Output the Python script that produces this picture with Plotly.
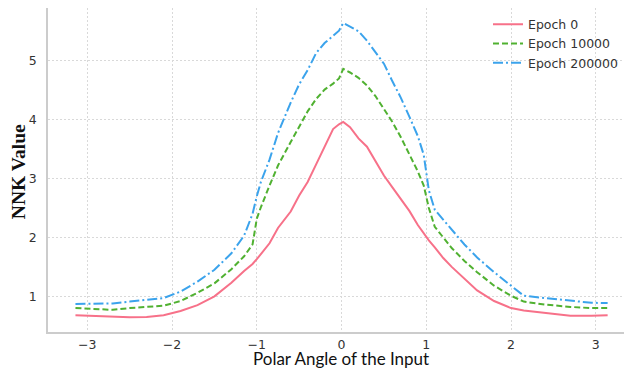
import plotly.graph_objects as go

# ---- data ----
angle = [-3.14, -2.9, -2.7, -2.5, -2.3, -2.1, -1.9, -1.7, -1.5, -1.3, -1.15, -1.05,
         -1.0, -0.95, -0.85, -0.75, -0.6, -0.5, -0.4, -0.3, -0.2, -0.1, -0.03, 0.02,
         0.1, 0.2, 0.3, 0.4, 0.5, 0.6, 0.7, 0.8, 0.9, 0.97, 1.03, 1.1, 1.2, 1.3,
         1.45, 1.6, 1.8, 2.0, 2.15, 2.4, 2.7, 2.95, 3.14]

epoch_0 = [0.68, 0.67, 0.66, 0.645, 0.65, 0.68, 0.75, 0.85, 1.0, 1.23, 1.43, 1.55,
           1.63, 1.72, 1.90, 2.16, 2.44, 2.71, 2.94, 3.24, 3.55, 3.84, 3.92, 3.96,
           3.87, 3.68, 3.54, 3.30, 3.05, 2.85, 2.65, 2.45, 2.21, 2.06, 1.95, 1.83, 1.65, 1.50,
           1.30, 1.10, 0.92, 0.80, 0.76, 0.72, 0.67, 0.67, 0.68]

epoch_10000 = [0.80, 0.79, 0.77, 0.80, 0.82, 0.84, 0.92, 1.06, 1.22, 1.46, 1.68, 1.88,
               2.32, 2.52, 2.88, 3.22, 3.62, 3.88, 4.14, 4.35, 4.51, 4.61, 4.70, 4.86,
               4.80, 4.71, 4.58, 4.40, 4.18, 3.96, 3.70, 3.40, 3.12, 2.88, 2.50, 2.18, 2.00, 1.82,
               1.60, 1.41, 1.18, 1.01, 0.91, 0.86, 0.82, 0.80, 0.80]

epoch_200000 = [0.87, 0.875, 0.88, 0.91, 0.94, 0.97, 1.08, 1.25, 1.45, 1.73, 2.03, 2.40,
                2.70, 2.95, 3.32, 3.77, 4.29, 4.60, 4.84, 5.13, 5.30, 5.42, 5.51, 5.64,
                5.58, 5.50, 5.34, 5.15, 4.95, 4.65, 4.37, 4.05, 3.72, 3.40, 2.80, 2.47, 2.30, 2.12,
                1.88, 1.66, 1.41, 1.18, 1.01, 0.97, 0.92, 0.89, 0.885]

series_names = ["Epoch 0", "Epoch 10000", "Epoch 200000"]
x_ticks = [-3, -2, -1, 0, 1, 2, 3]
x_tick_labels = ["\u22123", "\u22122", "\u22121", "0", "1", "2", "3"]
y_ticks = [1, 2, 3, 4, 5]
y_tick_labels = ["1", "2", "3", "4", "5"]

colors = ["#f77189", "#50b131", "#3ba3ec"]
dashes = ["solid", "6px,3px", "10px,3px,2px,3px"]

fig = go.Figure()
for name, vals, c, d in zip(series_names, [epoch_0, epoch_10000, epoch_200000], colors, dashes):
    fig.add_trace(go.Scatter(x=angle, y=vals, mode="lines", name=name,
                             line=dict(color=c, width=2, dash=d)))

axis_common = dict(showgrid=True, gridcolor="#d9d9d9", griddash="2px,2px", gridwidth=0.8,
                   zeroline=False, showline=True, linecolor="#cccccc", linewidth=1.5,
                   ticks="", tickfont=dict(family="DejaVu Sans", size=12.5, color="#333333"))

fig.update_xaxes(range=[-3.464, 3.333], tickvals=x_ticks, ticktext=x_tick_labels,
                 ticklabelstandoff=0, **axis_common)
fig.update_yaxes(range=[0.394, 5.895], tickvals=y_ticks, ticktext=y_tick_labels,
                 ticklabelstandoff=7, **axis_common)

fig.update_layout(
    width=624, height=371,
    margin=dict(l=48, r=0, t=8, b=39),
    paper_bgcolor="white", plot_bgcolor="white",
    showlegend=True,
    legend=dict(x=1.0, y=0.995, xanchor="right", yanchor="top",
                bgcolor="rgba(0,0,0,0)", font=dict(family="DejaVu Sans", size=12.5, color="#333333"),
                tracegroupgap=0),
    annotations=[
        dict(text="Polar Angle of the Input", xref="paper", yref="paper",
             x=0.509, y=-0.0815, xanchor="center", yanchor="middle", showarrow=False,
             font=dict(family="Lato", size=17, color="#111111")),
        dict(text="<b>NNK Value</b>", xref="paper", yref="paper",
             x=-0.0512, y=0.495, xanchor="center", yanchor="middle", textangle=-90,
             showarrow=False,
             font=dict(family="Liberation Serif", size=19.5, color="#111111")),
    ],
)

fig.write_html("out.html", config={"displayModeBar": False},
               post_script="document.body.style.margin='0';document.body.style.overflow='hidden';")
